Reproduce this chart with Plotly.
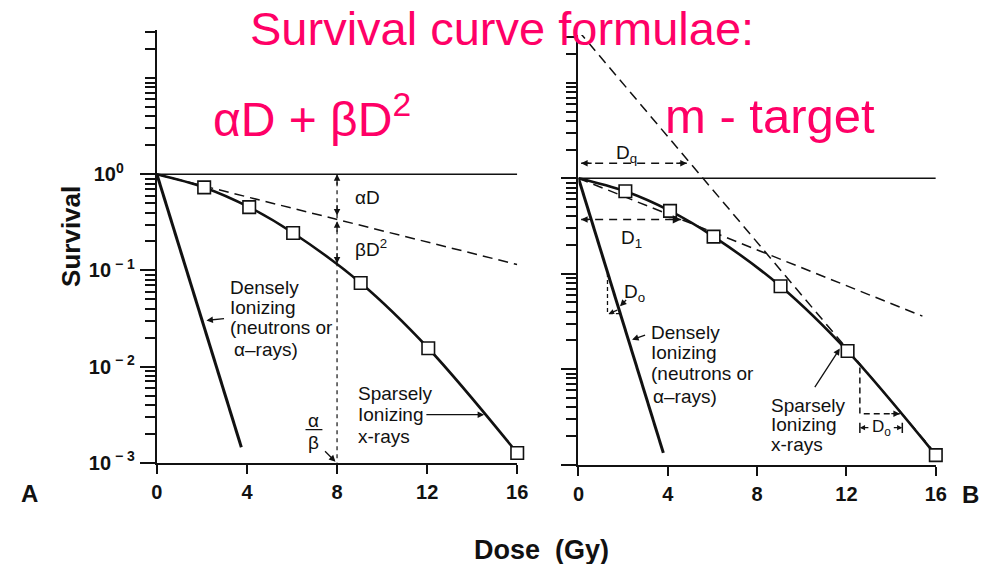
import math
import plotly.graph_objects as go

# ---------------- data ----------------
dose_ticks = [0, 4, 8, 12, 16]
surv_major = [0.001, 0.01, 0.1, 1]
surv_major_text = ["10<sup> − 3</sup>", "10<sup> − 2</sup>", "10<sup> − 1</sup>",
                   "10<sup>0</sup>\u00a0\u00a0"]
surv_minor = [m * 10.0 ** e for e in (-3, -2, -1, 0) for m in range(2, 10)] + [10, 20, 30]

# measured cell survival after sparsely ionizing x-rays
dose_pts = [2.1, 4.1, 6.05, 9.05, 12.05, 16.0]
surv_pts = [0.73, 0.455, 0.245, 0.074, 0.0155, 0.00126]
curve_dose = [0] + dose_pts
curve_surv = [1.0] + surv_pts

# densely ionizing (neutrons / alpha) straight lines
dense_dose_a = [0, 3.75]
dense_surv_a = [1.0, 0.00145]
dense_dose_b = [0, 3.8]
dense_surv_b = [1.0, 0.00133]

# panel A: linear (alpha) component and the alpha/beta dose
alpha_dose = [0, 16]
alpha_surv = [1.0, 0.115]
ab_dose = 8
ab_surv_alpha = 0.348   # on the alpha line at D = alpha/beta
ab_surv_curve = 0.118   # on the curve at D = alpha/beta

# panel B: multi-target construction
extrap_dose = [0, 16]
extrap_surv = [35.0, 0.0013]
init_dose = [0, 15.4]
init_surv = [1.0, 0.036]
dq_dose = [0.12, 4.85]
dq_surv = 1.436
d1_dose = [0.12, 4.6]
d1_surv = 0.371
d0_dense_dose = [1.3, 1.3, 1.86]
d0_dense_surv = [0.102, 0.0383, 0.0383]
d0_sparse_dose = [12.6, 12.6, 14.39]
d0_sparse_surv = [0.0104, 0.00342, 0.00342]
d0_span = [12.6, 14.5]
d0_span_surv = 0.00244

BLACK = "#111111"
PINK = "#ff0066"
FONT = "Liberation Sans, Arial, sans-serif"

# page-pixel helpers for placing the panels and free text
W, H = 983, 564
KX, OX, KY = 0.979, 6.7, 0.979
FS = 1 / KY


def px(X):
    return (X - OX) / KX / W


def py(Y):
    return 1 - Y / KY / H


fig = go.Figure()


def line(x, y, xa, ya, width=1.6, dash=None, shape="linear"):
    fig.add_trace(go.Scatter(x=x, y=y, xaxis=xa, yaxis=ya, mode="lines",
                             line=dict(color=BLACK, width=width, dash=dash, shape=shape),
                             hoverinfo="skip", cliponaxis=False))


def squares(xa, ya):
    fig.add_trace(go.Scatter(x=dose_pts, y=surv_pts, xaxis=xa, yaxis=ya, mode="markers",
                             marker=dict(symbol="square", size=12.5, color="white",
                                         line=dict(color=BLACK, width=1.6)),
                             hoverinfo="skip", cliponaxis=False))


# ---- panel A ----
line([0, 16], [1, 1], "x", "y", 1.6)
line(dense_dose_a, dense_surv_a, "x", "y", 3)
line(alpha_dose, alpha_surv, "x", "y", 1.5, "10px,6px")
line([ab_dose, ab_dose], [1, 0.001], "x", "y", 1.2, "4px,4px")
line(curve_dose, curve_surv, "x", "y", 2.6, shape="spline")
line([6.6, 7.35], [0.00221, 0.00221], "x", "y", 1.3)
squares("x", "y")

# ---- panel B ----
line([0, 16], [1, 1], "x2", "y2", 1.6)
line(dense_dose_b, dense_surv_b, "x2", "y2", 3)
line(extrap_dose, extrap_surv, "x2", "y2", 1.5, "10px,6px")
line(init_dose, init_surv, "x2", "y2", 1.5, "10px,6px")
line(curve_dose, curve_surv, "x2", "y2", 2.6, shape="spline")
line(dq_dose, [dq_surv, dq_surv], "x2", "y2", 1.5, "8px,6px")
line(d1_dose, [d1_surv, d1_surv], "x2", "y2", 1.5, "8px,6px")
line(d0_dense_dose, d0_dense_surv, "x2", "y2", 1.3, "4px,3px")
line(d0_sparse_dose, d0_sparse_surv, "x2", "y2", 1.5, "6px,4px")
for xb in d0_span:
    line([xb, xb], [0.00275, 0.00215], "x2", "y2", 1.5)
squares("x2", "y2")

ann = []


def text(t, x, y, xr, yr, size=19, anchor="left", color=BLACK, bold=False, angle=0):
    ann.append(dict(text=t, x=x, y=y, xref=xr, yref=yr, showarrow=False,
                    xanchor=anchor, yanchor="middle", textangle=angle,
                    font=dict(family=FONT, size=size, color=color,
                              weight="bold" if bold else "normal")))


def head(x, y, xr, yr, ax, ay, size=1.0):
    # arrowhead at (x, y); tail offset (ax, ay) in pixels
    ann.append(dict(text="", x=x, y=y, xref=xr, yref=yr, ax=ax, ay=ay,
                    showarrow=True, arrowhead=2, arrowsize=size, arrowwidth=1.3,
                    arrowcolor=BLACK, standoff=0, startstandoff=0))


def arrow(x, y, tx, ty, xr, yr):
    # arrow from (tx, ty) to (x, y), both in axis units (log10 on y)
    ann.append(dict(text="", x=x, y=y, xref=xr, yref=yr, ax=tx, ay=ty,
                    axref=xr, ayref=yr, showarrow=True, arrowhead=2, arrowsize=1,
                    arrowwidth=1.3, arrowcolor=BLACK, standoff=0))


L = math.log10

# panel A labels
text("αD", 8.73, -0.24, "x", "y")
text("βD<sup>2</sup>", 8.73, -0.77, "x", "y")
head(ab_dose, 0, "x", "y", 0, 12)
head(ab_dose, L(ab_surv_alpha) + 0.03, "x", "y", 0, -12)
head(ab_dose, L(ab_surv_alpha) - 0.03, "x", "y", 0, 12)
head(ab_dose, L(ab_surv_curve), "x", "y", 0, -12)
text("α", 6.95, -2.56, "x", "y", anchor="center")
text("β", 6.95, -2.79, "x", "y", anchor="center")
arrow(7.93, -2.99, 7.4, -2.865, "x", "y")
for t, xx, yy in [("Densely", 3.16, -1.177), ("Ionizing", 3.16, -1.385),
                  ("(neutrons or", 3.16, -1.594), ("α–rays)", 3.34, -1.823)]:
    text(t, xx, yy, "x", "y")
arrow(2.2, -1.52, 3.05, -1.5, "x", "y")
for t, yy in [("Sparsely", -2.281), ("Ionizing", -2.5), ("x-rays", -2.729)]:
    text(t, 8.82, yy, "x", "y")
arrow(14.53, -2.5, 11.9, -2.5, "x", "y")

# panel B labels
text("D<sub>q</sub>", 2.15, 0.25, "x2", "y2", anchor="center")
head(dq_dose[0], L(dq_surv), "x2", "y2", 12, 0)
head(dq_dose[1], L(dq_surv), "x2", "y2", -12, 0)
text("D<sub>1</sub>", 2.38, -0.64, "x2", "y2", anchor="center")
head(d1_dose[0], L(d1_surv), "x2", "y2", 12, 0)
head(d1_dose[1], L(d1_surv), "x2", "y2", -14, 0, 1.3)
text("D<sub>o</sub>", 2.5, -1.2, "x2", "y2", anchor="center")
arrow(1.86, -1.34, 2.2, -1.26, "x2", "y2")
head(1.36, L(0.0383), "x2", "y2", 10, -4, 0.8)
for t, xx, yy in [("Densely", 3.14, -1.616), ("Ionizing", 3.14, -1.826),
                  ("(neutrons or", 3.14, -2.046), ("α–rays)", 3.27, -2.288)]:
    text(t, xx, yy, "x2", "y2")
arrow(2.4, -1.69, 3.05, -1.637, "x2", "y2")
for t, yy in [("Sparsely", -2.382), ("Ionizing", -2.581), ("x-rays", -2.791)]:
    text(t, 8.52, yy, "x2", "y2")
arrow(11.7, -1.784, 10.54, -2.204, "x2", "y2")
head(d0_sparse_dose[2], L(d0_sparse_surv[2]), "x2", "y2", -10, 0)
text("D<sub>o</sub>", 13.55, L(d0_span_surv), "x2", "y2", size=17, anchor="center")
head(d0_span[0], L(d0_span_surv), "x2", "y2", 10, 0, 0.8)
head(d0_span[1], L(d0_span_surv), "x2", "y2", -10, 0, 0.8)

# figure titles and axis captions
text("Survival curve formulae:", px(501), py(28), "paper", "paper", size=round(46 * FS),
     anchor="center", color=PINK)
text("αD + βD<sup>2</sup>", px(312), py(116), "paper", "paper", size=48,
     anchor="center", color=PINK)
text("m - target", px(768), py(116), "paper", "paper", size=49,
     anchor="center", color=PINK)
text("Survival", px(72), py(236), "paper", "paper", size=26, anchor="center",
     bold=True, angle=-90)
text("Dose\u00a0\u00a0(Gy)", px(540), py(549), "paper", "paper", size=27,
     anchor="center", bold=True)
text("A", px(30), py(493), "paper", "paper", size=24, anchor="center", bold=True)
text("B", px(968), py(494), "paper", "paper", size=24, anchor="center", bold=True)

xcommon = dict(range=[0, 16], tickmode="array", tickvals=dose_ticks, ticks="outside",
               ticklen=9, tickwidth=2, tickcolor=BLACK, showline=True, linewidth=2,
               linecolor=BLACK, showgrid=False, zeroline=False, ticklabelstandoff=1,
               tickfont=dict(family=FONT, size=20, color=BLACK, weight="bold"))
ycommon = dict(type="log", range=[-3, 1.5], tickmode="array", tickvals=surv_major,
               ticks="outside", ticklen=15, tickwidth=2, tickcolor=BLACK,
               showline=True, linewidth=2, linecolor=BLACK, showgrid=False,
               zeroline=False,
               minor=dict(tickmode="array", tickvals=surv_minor, ticks="outside",
                          ticklen=10, tickwidth=1.5, tickcolor=BLACK, showgrid=False),
               tickfont=dict(family=FONT, size=20, color=BLACK, weight="bold"))

fig.update_layout(
    width=W, height=H, margin=dict(l=0, r=0, t=0, b=0),
    paper_bgcolor="white", plot_bgcolor="white", showlegend=False,
    xaxis=dict(xcommon, domain=[px(157), px(516)], anchor="y"),
    yaxis=dict(ycommon, domain=[py(462), py(30)], anchor="x",
               ticktext=surv_major_text, ticklabelstandoff=1),
    xaxis2=dict(xcommon, domain=[px(577), px(933)], anchor="y2"),
    yaxis2=dict(ycommon, domain=[py(464), py(35)], anchor="x2",
                showticklabels=False),
    annotations=ann,
)

fig.write_html("out.html")
